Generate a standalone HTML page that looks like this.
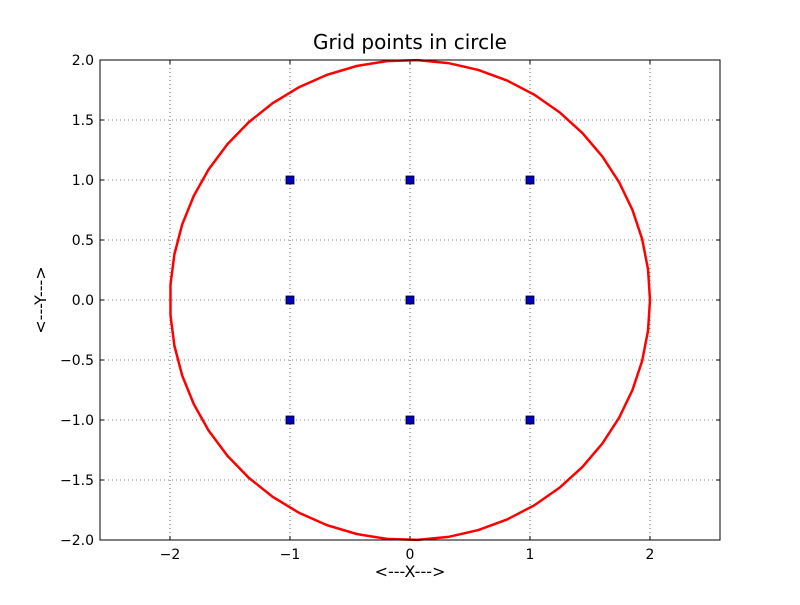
<!DOCTYPE html>
<html><head><meta charset="utf-8"><style>
body{margin:0;background:#fff}
svg text{font-family:"DejaVu Sans","Liberation Sans",sans-serif}
</style></head><body>
<svg id="c" width="800" height="600" xmlns="http://www.w3.org/2000/svg">
<rect width="800" height="600" fill="#fff"/>
<text x="410" y="49" text-anchor="middle" font-size="20">Grid points in circle</text>
<text x="410" y="577" text-anchor="middle" font-size="16">&lt;---X---&gt;</text>
<text x="46" y="300" text-anchor="middle" font-size="16" transform="rotate(-90 46 300)">&lt;---Y---&gt;</text>
</svg>
<script>
const xTicks=[-2,-1,0,1,2];
const yTicks=[-2,-1.5,-1,-0.5,0,0.5,1,1.5,2];
const yTickLabels=["\u22122.0","\u22121.5","\u22121.0","\u22120.5","0.0","0.5","1.0","1.5","2.0"];
const xTickLabels=["\u22122","\u22121","0","1","2"];
const ptX=[-1,-1,-1,0,0,0,1,1,1];
const ptY=[-1,0,1,-1,0,1,-1,0,1];
const circleR=2, circleN=50;

const L=100,R=720,T=60,B=540;
const xMin=-2.5833,xMax=2.5833,yMin=-2,yMax=2;
const sx=v=>L+(v-xMin)/(xMax-xMin)*(R-L);
const sy=v=>B-(v-yMin)/(yMax-yMin)*(B-T);
const svg=document.getElementById('c');
const NS='http://www.w3.org/2000/svg';
function mk(t,a){const e=document.createElementNS(NS,t);for(const k in a)e.setAttribute(k,a[k]);svg.appendChild(e);return e;}
xTicks.forEach((v,i)=>{
 const x=sx(v);
 const g=mk('line',{x1:x,x2:x,y1:T,y2:B,stroke:'#000','stroke-width':0.6,'stroke-dasharray':'1,3'});
 
 
 mk('line',{x1:x,x2:x,y1:B,y2:B-4,stroke:'#000'});
 mk('line',{x1:x,x2:x,y1:T,y2:T+4,stroke:'#000'});
 const t=mk('text',{x:x,y:B+19,'text-anchor':'middle','font-size':14});
 t.textContent=xTickLabels[i];
 
 
});
yTicks.forEach((v,i)=>{
 const y=sy(v);
 const g=mk('line',{x1:L,x2:R,y1:y,y2:y,stroke:'#000','stroke-width':0.6,'stroke-dasharray':'1,3'});
 
 
 mk('line',{x1:L,x2:L+4,y1:y,y2:y,stroke:'#000'});
 mk('line',{x1:R,x2:R-4,y1:y,y2:y,stroke:'#000'});
 const t=mk('text',{x:L-6,y:y+5,'text-anchor':'end','font-size':14});
 t.textContent=yTickLabels[i];
 
 
});
let pts=[];
for(let i=0;i<circleN;i++){const a=2*Math.PI*i/(circleN-1);pts.push(sx(circleR*Math.cos(a))+','+sy(circleR*Math.sin(a)));}
const c=mk('polyline',{points:pts.join(' '),fill:'none',stroke:'#f00','stroke-width':2.5});


ptX.forEach((v,i)=>{
 const m=mk('rect',{x:sx(v)-4,y:sy(ptY[i])-4,width:8,height:8,fill:'#0000bf',stroke:'#000','stroke-width':0.8});
 
 
});
const f=mk('rect',{x:L,y:T,width:R-L,height:B-T,fill:'none',stroke:'#000','stroke-width':1});


</script>
</body></html>
